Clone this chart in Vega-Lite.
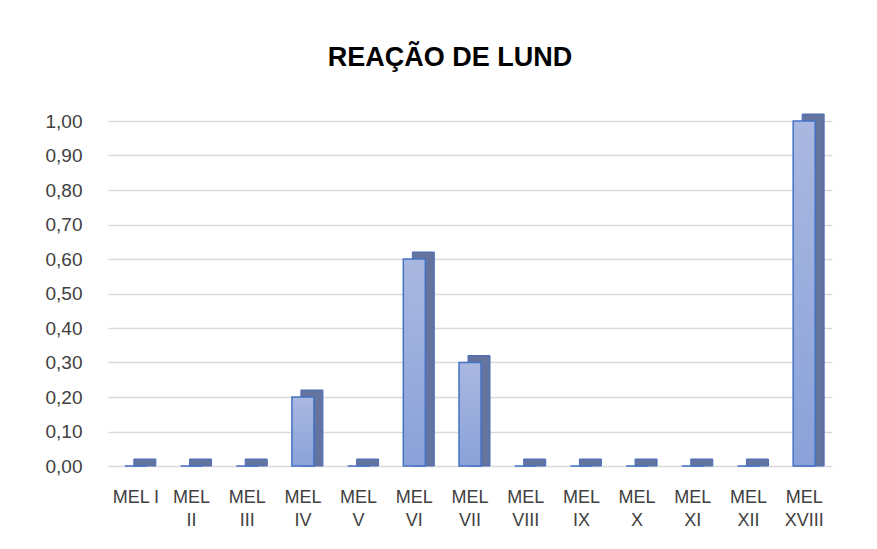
{
  "$schema": "https://vega.github.io/schema/vega-lite/v6.json",
  "width": 724,
  "height": 345,
  "autosize": {"type": "none"},
  "padding": {"left": 108, "top": 121, "right": 45, "bottom": 83},
  "background": "white",
  "title": {
    "text": "REAÇÃO DE LUND",
    "font": "Liberation Sans",
    "fontSize": 27,
    "fontWeight": "bold",
    "color": "#000000",
    "anchor": "middle",
    "frame": "group",
    "dx": -20,
    "offset": 40
  },
  "data": {
    "values": [
      {"amostra": "MEL I", "valor": 0},
      {"amostra": "MEL II", "valor": 0},
      {"amostra": "MEL III", "valor": 0},
      {"amostra": "MEL IV", "valor": 0.2},
      {"amostra": "MEL V", "valor": 0},
      {"amostra": "MEL VI", "valor": 0.6},
      {"amostra": "MEL VII", "valor": 0.3},
      {"amostra": "MEL VIII", "valor": 0},
      {"amostra": "MEL IX", "valor": 0},
      {"amostra": "MEL X", "valor": 0},
      {"amostra": "MEL XI", "valor": 0},
      {"amostra": "MEL XII", "valor": 0},
      {"amostra": "MEL XVIII", "valor": 1.0}
    ]
  },
  "encoding": {
    "x": {
      "field": "amostra",
      "type": "nominal",
      "sort": null,
      "scale": {"paddingInner": 0, "paddingOuter": 0},
      "axis": {
        "title": null,
        "domain": false,
        "ticks": false,
        "grid": false,
        "labelAngle": 0,
        "labelFont": "Liberation Sans",
        "labelFontSize": 18,
        "labelColor": "#404040",
        "labelPadding": 22,
        "labelLineHeight": 23,
        "labelBaseline": "top",
        "labelExpr": "datum.value == 'MEL I' ? 'MEL I' : split(datum.value, ' ')"
      }
    },
    "y": {
      "field": "valor",
      "type": "quantitative",
      "stack": null,
      "scale": {"domain": [0, 1], "nice": false},
      "axis": {
        "title": null,
        "values": [0, 0.1, 0.2, 0.3, 0.4, 0.5, 0.6, 0.7, 0.8, 0.9, 1.0],
        "domain": false,
        "ticks": false,
        "labelFont": "Liberation Sans",
        "labelFontSize": 19,
        "labelColor": "#404040",
        "labelPadding": 26,
        "gridColor": "#d9d9d9",
        "gridWidth": 1.5,
        "labelExpr": "replace(format(datum.value, '.2f'), '.', ',')"
      }
    }
  },
  "layer": [
    {
      "mark": {
        "type": "bar",
        "width": 22,
        "xOffset": 9,
        "yOffset": -7,
        "y2Offset": 0,
        "color": "#64749e",
        "stroke": "#4a6dbd",
        "strokeWidth": 1
      },
      "encoding": {
        "y2": {"datum": 0}
      }
    },
    {
      "mark": {
        "type": "bar",
        "width": 22,
        "stroke": "#4472c4",
        "strokeWidth": 1.5,
        "color": {
          "gradient": "linear",
          "x1": 0, "y1": 0, "x2": 0, "y2": 1,
          "stops": [
            {"offset": 0, "color": "#aab8e0"},
            {"offset": 1, "color": "#8aa2d9"}
          ]
        }
      }
    }
  ],
  "config": {
    "view": {"stroke": null}
  }
}
